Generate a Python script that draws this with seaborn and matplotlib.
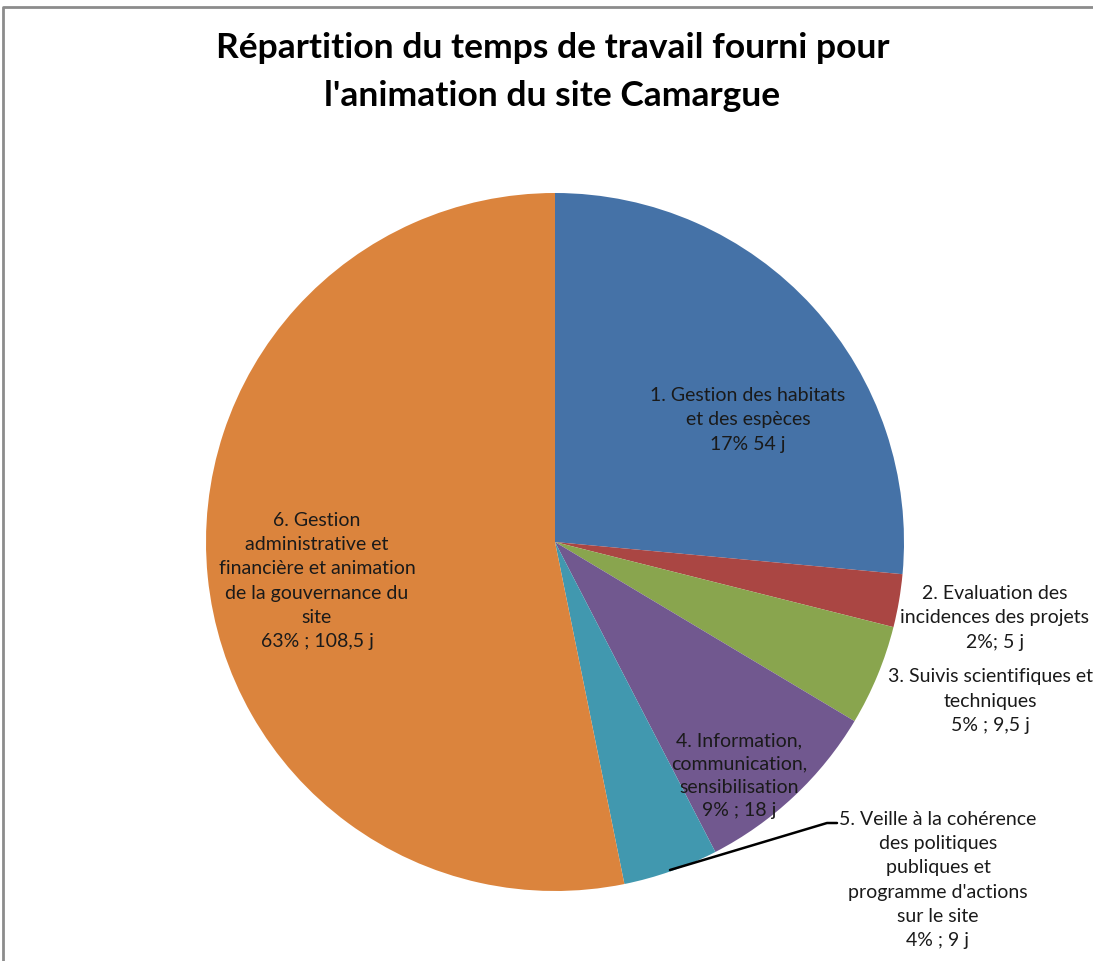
import numpy as np
import matplotlib.pyplot as plt
import seaborn as sns

# données du graphique
categories = [
    "1. Gestion des habitats\net des espèces",
    "2. Evaluation des\nincidences des projets",
    "3. Suivis scientifiques et\ntechniques",
    "4. Information,\ncommunication,\nsensibilisation",
    "5. Veille à la cohérence\ndes politiques\npubliques et\nprogramme d'actions\nsur le site",
    "6. Gestion\nadministrative et\nfinancière et animation\nde la gouvernance du\nsite",
]
jours = [54, 5, 9.5, 18, 9, 108.5]
etiquettes_valeurs = ["17% 54 j", "2%; 5 j", "5% ; 9,5 j", "9% ; 18 j", "4% ; 9 j", "63% ; 108,5 j"]
couleurs = ["#4572A7", "#AA4643", "#89A54E", "#71588F", "#4198AF", "#DB843D"]

sns.set_theme(style="white")
plt.rcParams['font.family'] = ['Lato', 'DejaVu Sans']

W, H = 1093, 961
fig = plt.figure(figsize=(W / 100, H / 100), dpi=100)
ax = fig.add_axes([0, 0, 1, 1])

# cadre du graphique
ax.plot([3, 3, W + 5], [-5, H - 7, H - 7], color="#8c8c8c", lw=2)

cx, cy, r = 555, H - 542, 349
ax.pie(jours, colors=couleurs, startangle=90, counterclock=False,
       center=(cx, cy), radius=r, wedgeprops=dict(linewidth=0),
       frame=True)
ax.set_xlim(0, W)
ax.set_ylim(0, H)
ax.set_aspect('equal')
ax.axis('off')

# positions des étiquettes (pixels)
label_pos = [(748, 420), (995, 618), (990, 701), (739, 776), (938, 880), (317, 581)]
spacing = [1.52, 1.52, 1.52, 1.45, 1.52, 1.52]
for cat, val, (lx, ly), ls in zip(categories, etiquettes_valeurs, label_pos, spacing):
    ax.text(lx, H - ly, cat + "\n" + val, ha='center', va='center',
            fontsize=14, color="#1a1a1a", linespacing=ls)

# ligne de rappel pour l'étiquette 5
ax.plot([670, 827, 837], [H - 870, H - 823, H - 823], color="black", lw=1.8)

ax.text(W / 2 + 6, H - 72, "Répartition du temps de travail fourni pour\nl'animation du site Camargue",
        ha='center', va='center', fontsize=25.5, fontweight='bold', color="black",
        linespacing=1.58)

fig.savefig("out.png", dpi=100)
